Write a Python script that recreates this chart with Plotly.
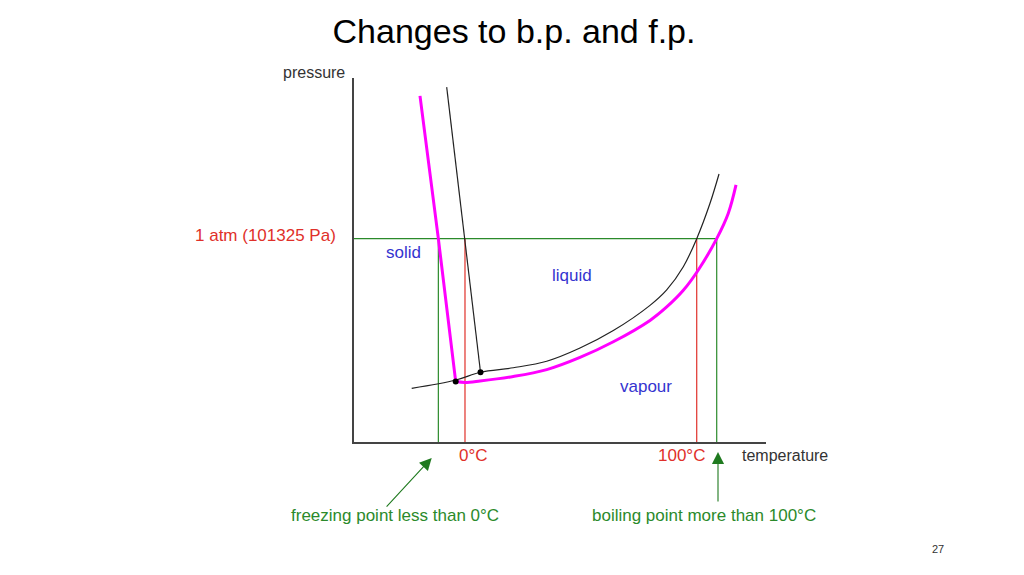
import plotly.graph_objects as go

# ---------------- data (arbitrary diagram units: T on a deg C scale, P in atm) ----------------
# pure water: solid/liquid line (black)
melt_T = [-7.9, 0.0, 6.69]
melt_P = [1.745, 1.0, 0.343]
# pure water: sublimation + vapour-pressure curve (black)
vap_T = [-23.0, -3.88, 6.69, 20.85, 35.26, 49.63, 64.01, 79.84, 87.05, 94.22, 100.0, 105.74, 109.62]
vap_P = [0.264, 0.305, 0.343, 0.365, 0.397, 0.462, 0.548, 0.672, 0.748, 0.862, 1.0, 1.174, 1.318]
# solution: solid/liquid line (magenta)
sol_melt_T = [-19.42, -11.5, -4.01]
sol_melt_P = [1.702, 1.0, 0.297]
# solution: vapour-pressure curve (magenta)
sol_vap_T = [-4.01, 0.0, 6.47, 20.85, 35.26, 49.63, 64.01, 79.84, 87.05, 94.22, 100.69, 108.63, 113.64, 116.96]
sol_vap_P = [0.297, 0.293, 0.300, 0.322, 0.356, 0.416, 0.493, 0.598, 0.664, 0.746, 0.846, 1.0, 1.125, 1.264]
# triple points
triple_T = [6.69, -4.01]
triple_P = [0.343, 0.297]
# reference values
atm_P = 1.0
fp_pure, bp_pure = 0.0, 100.0
fp_new, bp_new = -11.5, 108.63

# ---------------- styling constants ----------------
X_RANGE = [-47.9, 129.9]
Y_RANGE = [0.0, 1.79]
GREEN = "#2b8a2b"
RED = "#e0302a"
BLUE = "#3434d0"
MAGENTA = "#ff00ff"
FONT = "Liberation Sans"

fig = go.Figure()

# green 1 atm line and new f.p./b.p. verticals
fig.add_trace(go.Scatter(x=[X_RANGE[0], bp_new], y=[atm_P, atm_P], mode="lines",
                         line=dict(color=GREEN, width=1.2), hoverinfo="skip"))
for t in (fp_new, bp_new):
    fig.add_trace(go.Scatter(x=[t, t], y=[0, atm_P], mode="lines",
                             line=dict(color=GREEN, width=1.2), hoverinfo="skip"))
# red pure-water verticals
for t in (fp_pure, bp_pure):
    fig.add_trace(go.Scatter(x=[t, t], y=[0, atm_P], mode="lines",
                             line=dict(color=RED, width=1.2), hoverinfo="skip"))

# black (pure water) curves
fig.add_trace(go.Scatter(x=melt_T, y=melt_P, mode="lines",
                         line=dict(color="#222222", width=1.2)))
fig.add_trace(go.Scatter(x=vap_T, y=vap_P, mode="lines",
                         line=dict(color="#222222", width=1.2, shape="spline",
                                   smoothing=1.0, simplify=False)))
# magenta (solution) curves
fig.add_trace(go.Scatter(x=sol_melt_T, y=sol_melt_P, mode="lines",
                         line=dict(color=MAGENTA, width=3)))
fig.add_trace(go.Scatter(x=sol_vap_T, y=sol_vap_P, mode="lines",
                         line=dict(color=MAGENTA, width=3, shape="spline",
                                   smoothing=1.0, simplify=False)))
# triple points
fig.add_trace(go.Scatter(x=triple_T, y=triple_P, mode="markers",
                         marker=dict(color="black", size=6)))

def label(text, x, y, color, size=17, xanchor="center", xref="paper", yref="paper"):
    fig.add_annotation(text=text, x=x, y=y, xref=xref, yref=yref, showarrow=False,
                       xanchor=xanchor, yanchor="middle",
                       font=dict(family=FONT, size=size, color=color))

# labels outside the plot area (paper coordinates)
label("pressure", -0.017, 1.014, "#333333", size=16, xanchor="right")
label("1 atm (101325 Pa)", -0.039, 0.566, RED, xanchor="right")
label("0°C", 0.290, -0.036, RED)
label("100°C", 0.795, -0.036, RED)
label("temperature", 0.937, -0.036, "#333333", size=16, xanchor="left")
label("freezing point less than 0°C", -0.158, -0.203, GREEN, xanchor="left")
label("boiling point more than 100°C", 0.573, -0.203, GREEN, xanchor="left")
# region labels (data coordinates)
label("solid", -26.5, 0.930, BLUE, xref="x", yref="y")
label("liquid", 46.2, 0.821, BLUE, xref="x", yref="y")
label("vapour", 77.9, 0.271, BLUE, xref="x", yref="y")

# arrows (tip in paper coords, tail offset in pixels)
for tip_x, tip_y, dx, dy in ((0.1886, -0.0437, -46.5, 50.1), (0.8835, -0.0275, 0, 51)):
    fig.add_annotation(x=tip_x, y=tip_y, xref="paper", yref="paper", ax=dx, ay=dy,
                       text="", showarrow=True, arrowhead=2, arrowsize=2.2,
                       arrowwidth=1.1, arrowcolor="#1f7a1f")

# page number
label("27", 1.417, -0.294, "#333333", size=11)

# the page body has an 8px margin, so the figure is 1016x567 to fill the 1024x575 window
fig.update_layout(
    width=1016, height=567,
    margin=dict(l=346, r=258, t=70, b=133),
    paper_bgcolor="white", plot_bgcolor="white",
    showlegend=False,
    title=dict(text="Changes to b.p. and f.p.", x=506 / 1016, y=1 - 23 / 567,
               xref="container", yref="container", xanchor="center", yanchor="middle",
               font=dict(family=FONT, size=34, color="black")),
    xaxis=dict(range=X_RANGE, showline=True, linecolor="#444444", linewidth=1.5,
               showgrid=False, zeroline=False, showticklabels=False, ticks=""),
    yaxis=dict(range=Y_RANGE, showline=True, linecolor="#444444", linewidth=1.5,
               showgrid=False, zeroline=False, showticklabels=False, ticks=""),
)

fig.write_html("out.html")
